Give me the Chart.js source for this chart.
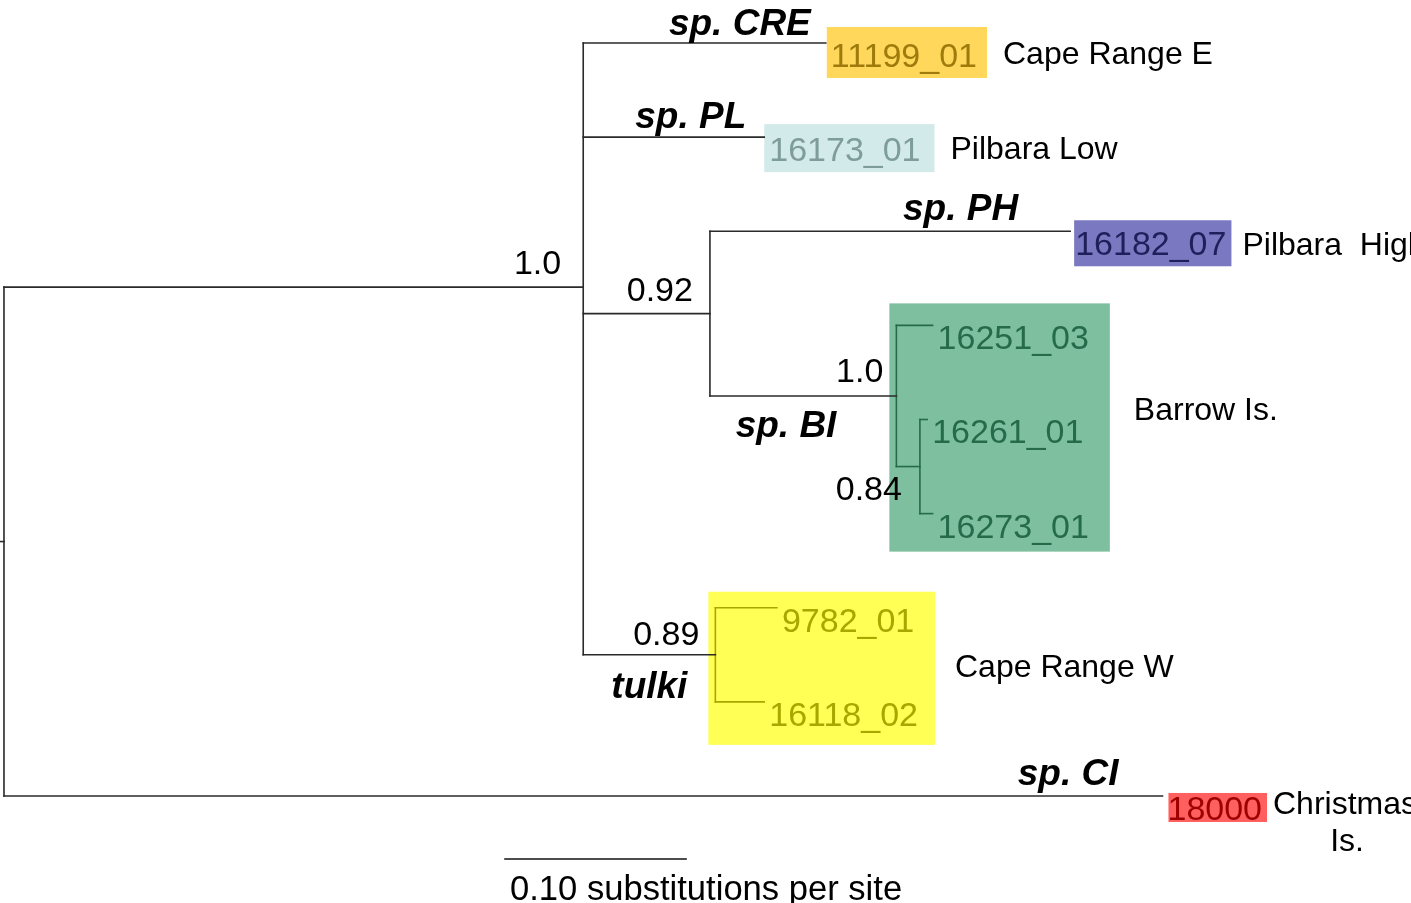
<!DOCTYPE html>
<html>
<head>
<meta charset="utf-8">
<script src="https://cdn.jsdelivr.net/npm/chart.js@4.4.1/dist/chart.umd.min.js"></script>
<style>
  html, body { margin: 0; padding: 0; background: #fff; overflow: hidden; }
  #wrap { width: 1411px; height: 903px; }
</style>
</head>
<body>
<div id="wrap"><canvas id="tree" width="1411" height="903"></canvas></div>
<script>
// tips, top to bottom (row = index)
const tipNames = ["11199_01", "16173_01", "16182_07", "16251_03", "16261_01", "16273_01", "9782_01", "16118_02", "18000"];
// distance from root (substitutions per site)
const tipDepths = [0.454, 0.420, 0.589, 0.513, 0.510, 0.513, 0.427, 0.420, 0.640];

// internal nodes
const nodeNames = ["root", "cladeA", "n092", "nBI", "n084", "nTulki"];
const nodeDepths = [0, 0.320, 0.390, 0.493, 0.506, 0.393];
const nodeChildren = [
  ["cladeA", "18000"],
  ["11199_01", "16173_01", "n092", "nTulki"],
  ["16182_07", "nBI"],
  ["16251_03", "n084"],
  ["16261_01", "16273_01"],
  ["9782_01", "16118_02"],
];
const supportValues = ["", "1.0", "0.92", "1.0", "0.84", "0.89"];

const cladeNames = ["sp. CRE", "sp. PL", "sp. PH", "sp. BI", "tulki", "sp. CI"];
const cladeBranches = ["11199_01", "16173_01", "16182_07", "nBI", "nTulki", "18000"];

const regionNames = ["Cape Range E", "Pilbara Low", "Pilbara  High", "Barrow Is.", "Cape Range W", "Christmas\nIs."];
const regionTargets = ["11199_01", "16173_01", "16182_07", "nBI", "nTulki", "18000"];

const scaleBarLength = 0.10;
const scaleBarText = "0.10 substitutions per site";

// ---- look & layout ----
const FONT = '"Liberation Sans", Arial, sans-serif';
const look = {
  line: "#2a2a2a",
  lineWidth: 1.6,
  tipFont: "34px " + FONT,
  cladeFont: "italic bold 37px " + FONT,
  supportFont: "34px " + FONT,
  regionFont: "32px " + FONT,
  scaleFont: "34.6px " + FONT,
  tipGap: 5,
  tipBaseline: 24,
  rootStub: 0.0022,
  scaleBarAt: { x: 0.2768, y: 8.67 },
};
// highlight boxes for single tips (pads in px around the label)
const tipLook = {
  "11199_01": { fill: "#ffd75a", ink: "#9e7b0c", padL: 4, padR: 10, top: -16, bottom: 35 },
  "16173_01": { fill: "#d3eaea", ink: "#7f9c9c", padL: 5, padR: 14, top: -13, bottom: 35 },
  "16182_07": { fill: "#7a78c0", ink: "#1f1f5c", padL: 1, padR: 5, top: -11, bottom: 35 },
  "18000":    { fill: "#ff5f5f", ink: "#9e0000", padL: -1, padR: 5, top: -3, bottom: 26 },
};
// highlight boxes for whole sub-clades
const groupLook = {
  nBI:    { fill: "#7dbf9f", ink: "#256b4b", padL: 7, padR: 21, top: -22, bottom: 38 },
  nTulki: { fill: "#ffff55", ink: "#aaa600", padL: 7, padR: 17, top: -16, bottom: 43 },
};
const cladeOffsets = [[-15, -8], [-18, -9], [-52, -11], [-60, 41], [-28, 43], [-44, -11]];
const supportOffsets = [null, [-22, -13], [-17, -13], [-13, -14], [-18, 33], [-16, -10]];
const regionOffsets = [[16, 21], [16, 22], [11, 24], [24, 24], [20, 22], [6, 18]];

// ---- build tree ----
const nodes = {};
tipNames.forEach((n, i) => { nodes[n] = { x: tipDepths[i], y: i, kids: [] }; });
nodeNames.forEach((n, i) => { nodes[n] = { x: nodeDepths[i], y: null, kids: nodeChildren[i] }; });
function rowOf(name) {
  const nd = nodes[name];
  if (nd.y === null) nd.y = nd.kids.reduce((s, k) => s + rowOf(k), 0) / nd.kids.length;
  return nd.y;
}
rowOf("root");

const parentOf = {};
nodeNames.forEach((n, i) => nodeChildren[i].forEach((k) => { parentOf[k] = n; }));
function groupOf(name) {
  let cur = name;
  while (cur) {
    if (groupLook[cur]) return cur;
    cur = parentOf[cur];
  }
  return null;
}

const segments = [];
nodeNames.forEach((n) => {
  const nd = nodes[n];
  const g = groupOf(n);
  const color = g ? groupLook[g].ink : look.line;
  const ys = nd.kids.map((k) => nodes[k].y);
  segments.push({ x0: nd.x, y0: Math.min(...ys), x1: nd.x, y1: Math.max(...ys), color });
  nd.kids.forEach((k) => {
    segments.push({ x0: nd.x, y0: nodes[k].y, x1: nodes[k].x, y1: nodes[k].y, color });
  });
});
segments.push({ x0: -look.rootStub, y0: nodes.root.y, x1: 0, y1: nodes.root.y, color: look.line });
segments.push({ x0: look.scaleBarAt.x, y0: look.scaleBarAt.y, x1: look.scaleBarAt.x + scaleBarLength, y1: look.scaleBarAt.y, color: "#111" });

const datasets = segments.map((s) => ({
  data: [{ x: s.x0, y: s.y0 }, { x: s.x1, y: s.y1 }],
  showLine: true,
  borderColor: s.color,
  borderWidth: look.lineWidth,
  pointRadius: 0,
  pointHoverRadius: 0,
  borderCapStyle: "square",
}));

// ---- labels & boxes ----
function boxOf(chart, name) {
  const X = (v) => chart.scales.x.getPixelForValue(v);
  const Y = (v) => chart.scales.y.getPixelForValue(v);
  const ctx = chart.ctx;
  ctx.font = look.tipFont;
  if (groupLook[name]) {
    const gl = groupLook[name];
    const tips = tipNames.filter((t) => groupOf(t) === name);
    let right = -Infinity;
    tips.forEach((t) => { right = Math.max(right, X(nodes[t].x) + look.tipGap + ctx.measureText(t).width); });
    const rows = tips.map((t) => nodes[t].y);
    return {
      left: X(nodes[name].x) - gl.padL,
      right: right + gl.padR,
      top: Y(Math.min(...rows)) + gl.top,
      bottom: Y(Math.max(...rows)) + gl.bottom,
    };
  }
  const tl = tipLook[name];
  const x0 = X(nodes[name].x) + look.tipGap;
  return {
    left: x0 - tl.padL,
    right: x0 + ctx.measureText(name).width + tl.padR,
    top: Y(nodes[name].y) + tl.top,
    bottom: Y(nodes[name].y) + tl.bottom,
  };
}

const treeLabels = {
  id: "treeLabels",
  beforeDatasetsDraw(chart) {
    const ctx = chart.ctx;
    ctx.save();
    Object.keys(groupLook).concat(Object.keys(tipLook)).forEach((name) => {
      const b = boxOf(chart, name);
      ctx.fillStyle = (groupLook[name] || tipLook[name]).fill;
      ctx.fillRect(b.left, b.top, b.right - b.left, b.bottom - b.top);
    });
    ctx.restore();
  },
  afterDatasetsDraw(chart) {
    const ctx = chart.ctx;
    const X = (v) => chart.scales.x.getPixelForValue(v);
    const Y = (v) => chart.scales.y.getPixelForValue(v);
    ctx.save();
    ctx.textBaseline = "alphabetic";

    // tip labels
    ctx.font = look.tipFont;
    ctx.textAlign = "left";
    tipNames.forEach((t) => {
      const g = groupOf(t);
      ctx.fillStyle = g ? groupLook[g].ink : (tipLook[t] ? tipLook[t].ink : "#000");
      ctx.fillText(t, X(nodes[t].x) + look.tipGap, Y(nodes[t].y) + look.tipBaseline);
    });

    // support values
    ctx.font = look.supportFont;
    ctx.textAlign = "right";
    ctx.fillStyle = "#000";
    nodeNames.forEach((n, i) => {
      if (!supportValues[i]) return;
      const [dx, dy] = supportOffsets[i];
      ctx.fillText(supportValues[i], X(nodes[n].x) + dx, Y(nodes[n].y) + dy);
    });

    // clade names
    ctx.font = look.cladeFont;
    cladeNames.forEach((c, i) => {
      const nd = nodes[cladeBranches[i]];
      const [dx, dy] = cladeOffsets[i];
      ctx.fillText(c, X(nd.x) + dx, Y(nd.y) + dy);
    });

    // regions
    regionNames.forEach((r, i) => {
      const b = boxOf(chart, regionTargets[i]);
      ctx.font = look.regionFont;
      const [gap, dy] = regionOffsets[i];
      const x = b.right + gap;
      const y = Y(nodes[regionTargets[i]].y) + dy;
      const lines = r.split("\n");
      const w0 = ctx.measureText(lines[0]).width;
      ctx.textAlign = "left";
      ctx.fillText(lines[0], x, y);
      ctx.textAlign = "center";
      lines.slice(1).forEach((ln, j) => ctx.fillText(ln, x + w0 / 2 + 2, y + 37 * (j + 1)));
    });

    // scale bar caption
    ctx.font = look.scaleFont;
    ctx.textAlign = "left";
    ctx.fillText(scaleBarText, X(look.scaleBarAt.x) + 5, Y(look.scaleBarAt.y) + 41);
    ctx.restore();
  },
};

new Chart(document.getElementById("tree").getContext("2d"), {
  type: "scatter",
  data: { datasets },
  options: {
    responsive: false,
    devicePixelRatio: 1,
    animation: false,
    layout: { padding: 0 },
    scales: {
      x: { type: "linear", display: false, min: -0.0022, max: 0.7773 },
      y: { type: "linear", display: false, reverse: true, min: -0.457, max: 9.137 },
    },
    plugins: { legend: { display: false }, tooltip: { enabled: false } },
    events: [],
  },
  plugins: [treeLabels],
});
</script>
</body>
</html>
